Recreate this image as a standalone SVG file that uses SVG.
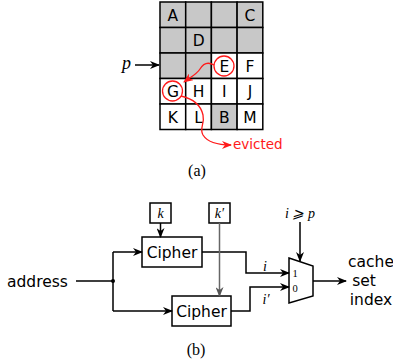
<svg xmlns="http://www.w3.org/2000/svg" width="393" height="362" viewBox="0 0 393 362">
<style>
.cell{stroke:#000;stroke-width:1.5}
.g{fill:#c8c8c8}
.w{fill:#fff}
.lt{font-family:"DejaVu Sans",sans-serif;font-size:15.5px;text-anchor:middle;fill:#000}
.sf{font-family:"Liberation Serif",serif;fill:#000}
.it{font-style:italic}
.ln{fill:none;stroke:#000;stroke-width:1.5}
.red{fill:none;stroke:#ff1a1a;stroke-width:1.3}
.box{fill:#fff;stroke:#000;stroke-width:1.5}
</style>
<defs>
<marker id="ah" markerWidth="10" markerHeight="8" refX="9" refY="4" orient="auto" markerUnits="userSpaceOnUse">
<path d="M0,0 L10,4 L0,8 L3,4 z" fill="#000"/>
</marker>
<marker id="ahg" markerWidth="10" markerHeight="8" refX="9" refY="4" orient="auto" markerUnits="userSpaceOnUse">
<path d="M0,0 L10,4 L0,8 L3,4 z" fill="#555"/>
</marker>
<marker id="ahr" markerWidth="10" markerHeight="8" refX="9" refY="4" orient="auto" markerUnits="userSpaceOnUse">
<path d="M0,0 L10,4 L0,8 L3,4 z" fill="#ff1a1a"/>
</marker>
</defs>
<g id="grid">
<rect class="cell g" x="160" y="2" width="25.7" height="25.5"/>
<rect class="cell g" x="185.7" y="2" width="25.7" height="25.5"/>
<rect class="cell g" x="211.4" y="2" width="25.7" height="25.5"/>
<rect class="cell g" x="237.1" y="2" width="25.7" height="25.5"/>
<rect class="cell g" x="160" y="27.5" width="25.7" height="25.5"/>
<rect class="cell g" x="185.7" y="27.5" width="25.7" height="25.5"/>
<rect class="cell g" x="211.4" y="27.5" width="25.7" height="25.5"/>
<rect class="cell g" x="237.1" y="27.5" width="25.7" height="25.5"/>
<rect class="cell g" x="160" y="53" width="25.7" height="25.5"/>
<rect class="cell g" x="185.7" y="53" width="25.7" height="25.5"/>
<rect class="cell w" x="211.4" y="53" width="25.7" height="25.5"/>
<rect class="cell w" x="237.1" y="53" width="25.7" height="25.5"/>
<rect class="cell w" x="160" y="78.5" width="25.7" height="25.5"/>
<rect class="cell w" x="185.7" y="78.5" width="25.7" height="25.5"/>
<rect class="cell w" x="211.4" y="78.5" width="25.7" height="25.5"/>
<rect class="cell w" x="237.1" y="78.5" width="25.7" height="25.5"/>
<rect class="cell w" x="160" y="104" width="25.7" height="25.5"/>
<rect class="cell w" x="185.7" y="104" width="25.7" height="25.5"/>
<rect class="cell g" x="211.4" y="104" width="25.7" height="25.5"/>
<rect class="cell w" x="237.1" y="104" width="25.7" height="25.5"/>
<text class="lt" x="172.9" y="20.5">A</text>
<text class="lt" x="250" y="20.5">C</text>
<text class="lt" x="198.6" y="46">D</text>
<text class="lt" x="224.3" y="71.5">E</text>
<text class="lt" x="250" y="71.5">F</text>
<text class="lt" x="172.9" y="97">G</text>
<text class="lt" x="198.6" y="97">H</text>
<text class="lt" x="224.3" y="97">I</text>
<text class="lt" x="250" y="97">J</text>
<text class="lt" x="172.9" y="122.5">K</text>
<text class="lt" x="198.6" y="122.5">L</text>
<text class="lt" x="224.3" y="122.5">B</text>
<text class="lt" x="250" y="122.5">M</text>
<circle class="red" cx="224" cy="66" r="10"/>
<circle class="red" cx="172.5" cy="91" r="10"/>
</g>
<g id="p-label">
<text class="sf it" x="122" y="69" font-size="18">p</text>
</g>
<g id="evicted">
<text x="233" y="149" font-family="DejaVu Sans, sans-serif" font-size="13.5" fill="#ff1a1a">evicted</text>
</g>
<g id="cap-a"><text class="sf" x="197" y="176" font-size="16" text-anchor="middle">(a)</text></g>
<g id="k"><rect class="box" x="150" y="203" width="21" height="20"/><text class="sf it" x="160.5" y="218" font-size="14" text-anchor="middle">k</text></g>
<g id="kp"><rect class="box" x="209" y="203" width="21" height="20"/><text class="sf it" x="219.5" y="218" font-size="14" text-anchor="middle">k′</text></g>
<g id="cipher1"><rect class="box" x="142" y="237" width="60" height="30"/><text class="lt" x="172" y="258">Cipher</text></g>
<g id="cipher2"><rect class="box" x="172" y="296" width="59" height="30"/><text class="lt" x="201.5" y="317">Cipher</text></g>
<g id="address"><text x="7" y="286.5" font-family="DejaVu Sans, sans-serif" font-size="15.5" fill="#000">address</text></g>
<g id="mux">
<polygon points="289,258 313,266 313,296 289,303" fill="#fff" stroke="#000" stroke-width="1.5"/>
<text class="sf" x="295" y="277" font-size="10.5" text-anchor="middle">1</text>
<text class="sf" x="295" y="292" font-size="10.5" text-anchor="middle">0</text>
</g>
<g id="sel"><text class="sf it" x="300" y="218" font-size="14" text-anchor="middle">i ⩾ p</text></g>
<g id="out">
<text class="lt" x="371" y="267">cache</text>
<text class="lt" x="364" y="286">set</text>
<text class="lt" x="371" y="305">index</text>
</g>
<g id="cap-b"><text class="sf" x="196" y="355" font-size="16" text-anchor="middle">(b)</text></g>
<g id="connectors">
<line class="ln" x1="135" y1="65" x2="159" y2="65" marker-end="url(#ah)"/>
<path class="red" d="M214,65 C207,61 203,64 200,69 C197,74 191,77 184,82" marker-end="url(#ahr)"/>
<path class="red" d="M181,96 C194,99 201,106 203,115 C205,124 199,128 203,135 C208,143 220,145 231,145" marker-end="url(#ahr)"/>
<line class="ln" x1="160.5" y1="223" x2="160.5" y2="237" marker-end="url(#ah)"/>
<path class="ln" d="M76,281 H113 M113,252 V311"/>
<line class="ln" x1="113" y1="252" x2="142" y2="252" marker-end="url(#ah)"/>
<line class="ln" x1="113" y1="311" x2="172" y2="311" marker-end="url(#ah)"/>
<circle cx="113" cy="281" r="2" fill="#000"/>
<path class="ln" d="M202,252 H246 V273 H289" marker-end="url(#ah)"/>
<path class="ln" d="M231,311 H250 V287 H289" marker-end="url(#ah)"/>
<line x1="219.5" y1="223" x2="219.5" y2="296" stroke="#666" stroke-width="1.5" marker-end="url(#ahg)"/>
<text class="sf it" x="265" y="271" font-size="14" text-anchor="middle">i</text>
<text class="sf it" x="266" y="304" font-size="14" text-anchor="middle">i′</text>
<line class="ln" x1="300" y1="222" x2="300" y2="261" marker-end="url(#ah)"/>
<line class="ln" x1="313" y1="281" x2="346" y2="281" marker-end="url(#ah)"/>
</g>
</svg>
